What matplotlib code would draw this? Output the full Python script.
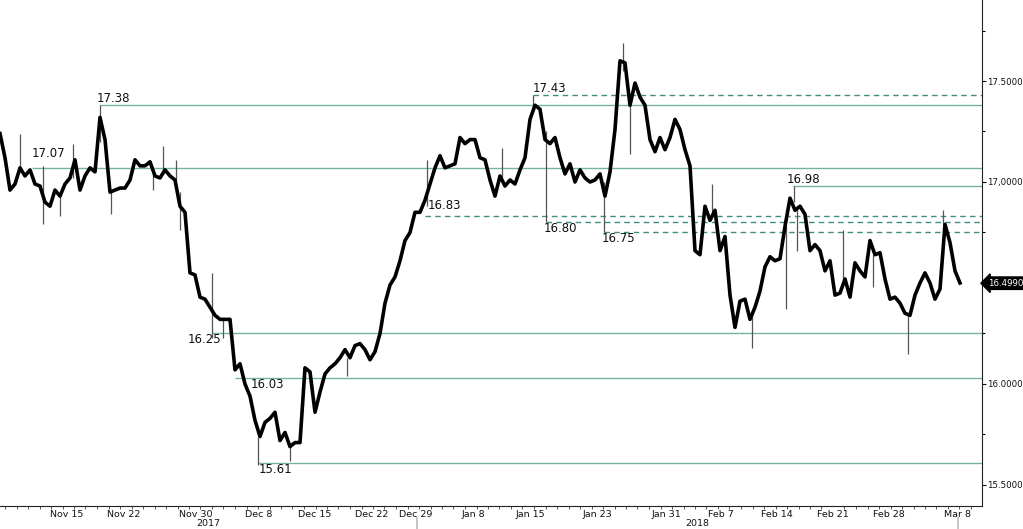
import matplotlib.pyplot as plt
import matplotlib.transforms as mtransforms
import numpy as np

# Fiyat serisi (her eleman bir çubuk, soldan sağa)
close = [
    17.24, 17.12, 16.96, 16.99, 17.07, 17.03, 17.06, 16.99, 16.98, 16.90,
    16.88, 16.96, 16.93, 16.99, 17.02, 17.11, 16.96, 17.03, 17.07, 17.05,
    17.32, 17.21, 16.95, 16.96, 16.97, 16.97, 17.01, 17.11, 17.08, 17.08,
    17.10, 17.03, 17.02, 17.06, 17.03, 17.01, 16.88, 16.85, 16.55, 16.54,
    16.43, 16.42, 16.38, 16.34, 16.32, 16.32, 16.32, 16.07, 16.10, 16.00,
    15.94, 15.82, 15.74, 15.81, 15.83, 15.86, 15.72, 15.76, 15.69, 15.71,
    15.71, 16.08, 16.06, 15.86, 15.96, 16.05, 16.08, 16.10, 16.13, 16.17,
    16.13, 16.19, 16.20, 16.17, 16.12, 16.16, 16.25, 16.40, 16.49, 16.53,
    16.61, 16.71, 16.75, 16.85, 16.85, 16.91, 16.99, 17.07, 17.13, 17.07,
    17.08, 17.09, 17.22, 17.19, 17.21, 17.21, 17.12, 17.11, 17.01, 16.93,
    17.03, 16.98, 17.01, 16.99, 17.06, 17.12, 17.31, 17.38, 17.36, 17.21,
    17.19, 17.22, 17.12, 17.04, 17.09, 17.00, 17.06, 17.02, 17.00, 17.01,
    17.04, 16.93, 17.05, 17.26, 17.60, 17.59, 17.38, 17.49, 17.42, 17.38,
    17.21, 17.15, 17.22, 17.16, 17.22, 17.31, 17.26, 17.16, 17.08, 16.66,
    16.64, 16.88, 16.81, 16.86, 16.66, 16.73, 16.44, 16.28, 16.41, 16.42,
    16.32, 16.38, 16.46, 16.58, 16.63, 16.61, 16.62, 16.78, 16.92, 16.86,
    16.88, 16.84, 16.66, 16.69, 16.66, 16.56, 16.61, 16.44, 16.45, 16.52,
    16.43, 16.60, 16.56, 16.53, 16.71, 16.64, 16.65, 16.52, 16.42, 16.43,
    16.40, 16.35, 16.34, 16.44, 16.50, 16.55, 16.50, 16.42, 16.47, 16.79,
    16.70, 16.56, 16.50,
]

# Fitil (uç) değerleri: konum, üst, alt
wick_x = [4, 8.5, 12, 14.6, 20, 22.2, 30.6, 32.6, 35.2, 36, 42.4, 44.6, 51.6, 58,
          69.4, 85.4, 100.4, 106.6, 109.2, 120.8, 124.6, 126, 142.4, 150.4,
          157.2, 158.8, 159.4, 168.6, 174.6, 181.6, 188.6]
wick_hi = [17.24, 17.08, 16.93, 17.19, 17.38, 16.95, 17.05, 17.18, 17.11, 16.95,
           16.55, 16.32, 15.74, 15.69, 16.13, 17.11, 17.17, 17.43, 17.25, 17.00,
           17.69, 17.38, 16.99, 16.36, 16.78, 16.98, 16.88, 16.76, 16.64, 16.35,
           16.86]
wick_lo = [17.07, 16.79, 16.83, 17.02, 17.20, 16.84, 16.96, 17.06, 17.01, 16.76,
           16.23, 16.23, 15.60, 15.62, 16.04, 16.88, 17.00, 17.35, 16.80, 16.75,
           17.55, 17.14, 16.85, 16.18, 16.37, 16.90, 16.66, 16.52, 16.48, 16.15,
           16.79]

# Destek / direnç seviyeleri
solid_levels = [17.38, 17.07, 16.98, 16.25, 16.03, 15.61]
solid_start = [20, 6.4, 158.6, 42.4, 47, 51.6]
dashed_levels = [17.43, 16.83, 16.80, 16.75]
dashed_start = [106.6, 85, 109.2, 120.8]

# Etiketler: metin, x, y, hizalama
level_labels = ["17.38", "17.07", "16.98", "16.25", "16.03", "15.61",
                "17.43", "16.83", "16.80", "16.75"]
label_x = [19.4, 6.4, 157.4, 44.2, 50.2, 51.8, 106.6, 85.6, 108.8, 120.4]
label_y = [17.38, 17.11, 16.98, 16.25, 16.03, 15.61, 17.43, 16.85, 16.80, 16.75]
label_ha = ["left", "left", "left", "right", "left", "left",
            "left", "left", "left", "left"]
label_va = ["bottom", "bottom", "bottom", "top", "top", "top",
            "bottom", "bottom", "top", "top"]

# Eksen etiketleri
tick_pos = [13.4, 24.8, 39.2, 51.8, 63, 74.4, 83.2, 94.6, 106, 119.4,
            133.2, 144.2, 155.4, 166.6, 177.8, 191.4]
tick_lbl = ["Nov 15", "Nov 22", "Nov 30", "Dec 8", "Dec 15", "Dec 22", "Dec 29",
            "Jan 8", "Jan 15", "Jan 23", "Jan 31", "Feb 7", "Feb 14", "Feb 21",
            "Feb 28", "Mar 8"]
year_pos = [41.6, 139.4]
year_lbl = ["2017", "2018"]
year_sep = [83.4, 191.6]
y_ticks = [15.5, 16.0, 17.0, 17.5]
y_lbl = ["15.5000", "16.0000", "17,0000", "17.5000"]
last_price = 16.499

x = np.arange(len(close))
XMAX = 196.4

fig = plt.figure(figsize=(10.23, 5.29), dpi=100)
ax = fig.add_axes([0, 23 / 529, 982 / 1023, 506 / 529])

teal = '#74b3a4'
teal_dash = '#3f8e7f'
ax.hlines(solid_levels, solid_start, XMAX, colors=teal, linewidth=1.0, zorder=1)
ax.hlines(dashed_levels, dashed_start, XMAX, colors=teal_dash, linewidth=1.0,
          linestyles=(0, (4, 3)), zorder=1)

ax.vlines(wick_x, wick_lo, wick_hi, colors='#555555', linewidth=0.9, zorder=2)
ax.plot(x, close, color='black', linewidth=2.6, solid_joinstyle='round', zorder=3)

for t, lx, ly, ha, va in zip(level_labels, label_x, label_y, label_ha, label_va):
    ax.text(lx, ly, t, ha=ha, va=va, fontsize=8.5, color='#111111', zorder=4)

ax.set_xlim(0, XMAX)
ax.set_ylim(15.396, 17.901)

for s in ['left', 'top']:
    ax.spines[s].set_visible(False)
ax.spines['right'].set_color('#222222')
ax.spines['bottom'].set_color('#222222')

ax.yaxis.tick_right()
ax.set_yticks(y_ticks)
ax.set_yticklabels(y_lbl)
ax.set_yticks([15.75, 16.25, 16.5, 16.75, 17.25, 17.75], minor=True)
ax.tick_params(axis='y', which='major', length=3, width=0.8, labelsize=6.2, pad=0.5,
               colors='#111111')
ax.tick_params(axis='y', which='minor', length=2.5, width=0.8)

ax.set_xticks(tick_pos)
ax.set_xticklabels(tick_lbl)
ax.set_xticks(np.arange(1.0, XMAX, 2.3), minor=True)
ax.tick_params(axis='x', which='major', length=0, labelsize=6.8, pad=3,
               colors='#111111')
ax.tick_params(axis='x', which='minor', length=2, width=0.7, color='#555555')

trans = mtransforms.blended_transform_factory(ax.transData, ax.transAxes)
for yp, yl in zip(year_pos, year_lbl):
    ax.text(yp, -0.034, yl, transform=trans, ha='center', va='center',
            fontsize=6.8, color='#111111', clip_on=False)
for xs in year_sep:
    ax.plot([xs, xs], [-0.024, -0.05], transform=trans, color='#bbbbbb',
            linewidth=1.2, clip_on=False)

# Son fiyat etiketi
ax.annotate(f"{last_price:.4f}", xy=(1.0, last_price),
            xycoords=('axes fraction', 'data'), xytext=(4, 0),
            textcoords='offset points', ha='left', va='center', fontsize=6.2,
            color='white', annotation_clip=False,
            bbox=dict(boxstyle='larrow,pad=0.2', fc='black', ec='black'))

fig.savefig('out.png', dpi=100, facecolor='white')
